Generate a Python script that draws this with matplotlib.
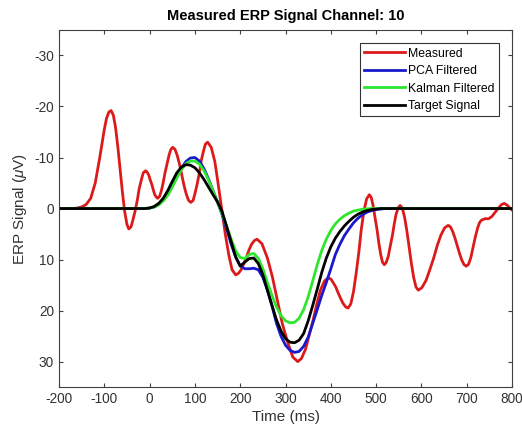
import numpy as np
import matplotlib.pyplot as plt

plt.rcParams['font.family'] = ['Liberation Sans', 'DejaVu Sans']
plt.rcParams['axes.unicode_minus'] = False
plt.rcParams['mathtext.fontset'] = 'custom'
plt.rcParams['mathtext.it'] = 'Liberation Sans:italic'
plt.rcParams['mathtext.rm'] = 'Liberation Sans'

# measured signal (ms, uV)
meas_t = [-200, -170, -160, -150, -140, -130, -120, -110, -100, -95, -90, -85,
          -80, -75, -70, -65, -60, -55, -50, -46,
          -41, -37, -32, -27, -23, -18, -14, -9,
          -6, -2, 1, 5, 8, 11, 15, 18,
          22, 26, 30, 34, 39, 43, 47, 51,
          56, 61, 66, 71, 76, 81, 86, 91,
          96, 100, 105, 110, 114, 119, 123, 128,
          136, 144, 151, 159, 167, 175, 182, 190,
          196, 202, 208, 214, 219, 225, 231, 237,
          248, 260, 271, 282, 293, 305, 316, 327,
          335, 344, 352, 361, 369, 377, 386, 394,
          400, 405, 411, 416, 422, 427, 433, 438,
          444, 450, 456, 462, 467, 473, 479, 485,
          489, 493, 497, 502, 506, 510, 514, 518,
          522, 527, 531, 536, 540, 544, 549, 553,
          558, 563, 568, 573, 578, 583, 588, 593,
          601, 610, 618, 627, 635, 643, 651, 659,
          664, 669, 674, 679, 684, 689, 694, 699,
          704, 709, 714, 719, 724, 728, 732, 740, 748, 755, 762, 770, 777, 783,
          790, 795, 800]
meas_v = [0, 0, -0.1, -0.3, -0.8, -2, -5, -10, -15.5, -17.7, -18.9, -19.2,
          -18.3, -15.8, -12, -7.6, -3.2, 0.6, 3.1, 4,
          3.6, 2.3, 0.5, -1.7, -3.9, -5.7, -7, -7.4,
          -7.2, -6.6, -5.7, -4.7, -3.7, -2.8, -2.2, -2,
          -2.4, -3.5, -5.1, -7, -8.9, -10.5, -11.6, -12,
          -11.6, -10.4, -8.7, -6.6, -4.5, -2.8, -1.6, -1.2,
          -1.6, -2.9, -4.8, -7.1, -9.4, -11.3, -12.6, -13,
          -12, -9.2, -5, 0, 5, 9.2, 12, 13,
          12.7, 12, 10.8, 9.5, 8.2, 7, 6.3, 6,
          6.9, 9.7, 13.4, 18, 22.6, 26.3, 29.1, 30,
          29.4, 27.6, 24.9, 21.8, 18.7, 16, 14.2, 13.6,
          13.8, 14.5, 15.4, 16.5, 17.7, 18.6, 19.3, 19.5,
          18.7, 16.3, 12.6, 8.4, 4.2, 0.5, -1.9, -2.7,
          -2.2, -0.7, 1.5, 4.2, 6.8, 9, 10.5, 11,
          10.6, 9.3, 7.4, 5.2, 3, 1.1, -0.2, -0.6,
          0, 1.8, 4.5, 7.7, 10.9, 13.6, 15.4, 16,
          15.5, 14.1, 12.1, 9.7, 7.2, 5.2, 3.8, 3.3,
          3.6, 4.5, 5.8, 7.3, 8.8, 10.1, 11, 11.3,
          10.9, 9.6, 7.6, 5.5, 3.8, 2.8, 2.3, 2, 2, 1.6, 0.8, -0.1, -0.8, -1,
          -0.6, -0.1, 0.3]

# filtered / target signals, 10 ms steps
t = np.arange(-200, 801, 10)

pca = [0] * 20 + [
    -0.1, -0.3, -0.8, -1.6, -2.8, -4.4, -6.2, -7.9, -9.2, -9.9,
    -10, -9.3, -7.8, -5.8, -3.5, -1.2, 1.2, 4, 7, 9.5,
    11.2, 11.8, 11.8, 11.7, 12, 13.5, 16, 19, 22.5, 25,
    26.8, 27.8, 28.2, 28, 27, 25.2, 22.5, 19.8, 17, 14.5,
    11.8, 9, 7, 5.3, 4, 2.8, 1.9, 1.2, 0.7, 0.4,
    0.2, 0.1, 0] + [0] * 28

kalman = [0] * 20 + [
    -0.1, -0.3, -0.7, -1.5, -2.6, -4.2, -6, -7.6, -8.8, -9.3,
    -9.3, -8.7, -7.4, -5.6, -3.4, -1.2, 1, 3.5, 6, 8.3,
    9.6, 9.8, 9, 8.8, 9.8, 11.8, 14.5, 17, 19.3, 21,
    22, 22.4, 22.3, 21.5, 19.8, 17.3, 14.2, 11, 8.2, 6,
    4.3, 3, 2.1, 1.4, 0.9, 0.5, 0.3, 0.15, 0.05, 0] + [0] * 31

target = [0] * 20 + [
    -0.1, -0.4, -1, -2, -3.5, -5.3, -7, -8.1, -8.6, -8.5,
    -8, -7, -5.7, -4.2, -2.7, -1.3, 0.6, 3.5, 6.5, 9.5,
    11.3, 10.5, 9.8, 9.7, 10.8, 13, 16, 19, 21.8, 24,
    25.5, 26.2, 26.3, 25.8, 24.5, 22, 19, 15.8, 12.5, 9.7,
    7.5, 5.8, 4.5, 3.4, 2.5, 1.7, 1.1, 0.7, 0.4, 0.2,
    0.1, 0] + [0] * 29

fig = plt.figure(figsize=(5.22, 4.34), dpi=100)
ax = fig.add_axes([0.113, 0.108, 0.868, 0.823])

ax.plot(meas_t, meas_v, color='#dd1a1a', lw=2, label='Measured')
ax.plot(t, pca, color='#1a1acc', lw=2, label='PCA Filtered')
ax.plot(t, kalman, color='#2ee62e', lw=2, label='Kalman Filtered')
ax.plot(t, target, color='black', lw=2, label='Target Signal')

ax.set_xlim(-200, 800)
ax.set_ylim(35, -35)
ax.set_xticks(np.arange(-200, 801, 100))
ax.set_yticks(np.arange(-30, 31, 10))
ax.tick_params(direction='in', top=True, right=True, colors='#404040',
               labelcolor='#333333', labelsize=9.8, length=3)
for s in ax.spines.values():
    s.set_color('#404040')

ax.set_title('Measured ERP Signal Channel: 10', fontsize=10.5, fontweight='bold', pad=7)
ax.set_xlabel('Time (ms)', fontsize=11, color='#333333', labelpad=3)
ax.set_ylabel(r'ERP Signal ($\mu$V)', fontsize=11, color='#333333')

leg = ax.legend(loc='upper right', fontsize=8.8, frameon=True, fancybox=False,
                borderaxespad=1.1, borderpad=0.35, handlelength=3.4,
                handletextpad=0.2, labelspacing=0.45)
leg.get_frame().set_edgecolor('black')
leg.get_frame().set_linewidth(0.8)

fig.savefig('out.png')
